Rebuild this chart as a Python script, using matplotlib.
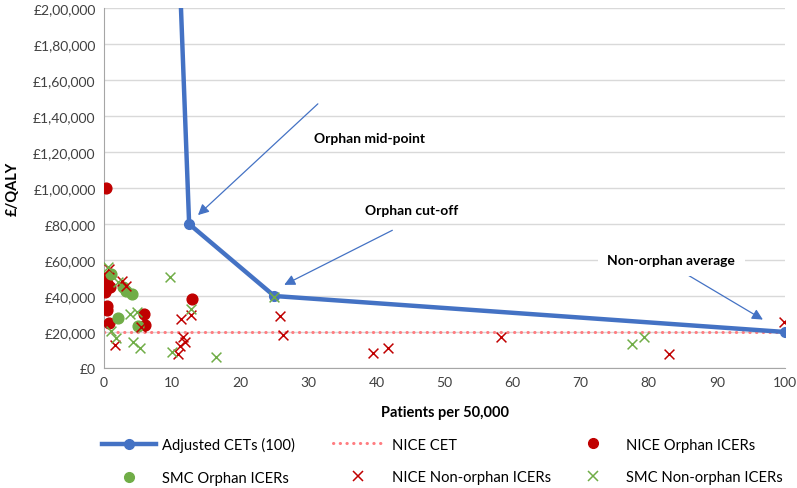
import matplotlib
matplotlib.use("Agg")
import matplotlib.pyplot as plt
from matplotlib.ticker import FuncFormatter, MultipleLocator
from matplotlib.lines import Line2D

plt.rcParams['font.family'] = ['Lato', 'DejaVu Sans']

# Adjusted cost-effectiveness thresholds (line runs off the top of the chart)
cet_x = [10, 12.5, 25, 100]
cet_y = [330000, 80000, 40000, 20000]

nice_cet_x = [0, 100]
nice_cet_y = [20000, 20000]

nice_orphan_x = [0.3, 0.2, 0.5, 0.9, 0.1, 0.3, 0.5, 0.5, 0.8, 5.8, 6.0, 12.9]
nice_orphan_y = [100000, 50000, 47000, 45000, 42000, 44000, 34500, 32000, 25000, 30000, 24000, 38500]

smc_orphan_x = [1.0, 2.8, 3.3, 4.1, 2.0, 5.0]
smc_orphan_y = [52000, 45000, 43000, 41000, 27500, 23500]

nice_non_x = [0.8, 2.6, 3.2, 1.6, 5.5, 11.3, 12.7, 11.6, 11.9, 11.2, 10.9, 25.8, 26.3,
              39.5, 41.7, 58.3, 83.0, 99.8]
nice_non_y = [55000, 48500, 45700, 12500, 22600, 27000, 29500, 17000, 14300, 12400, 8000, 29000,
              18500, 8500, 11000, 17000, 7500, 25500]

smc_non_x = [0.6, 2.1, 9.7, 3.8, 4.8, 1.0, 1.7, 4.2, 5.3, 10.0, 16.5, 12.8, 24.9, 77.6, 79.3]
smc_non_y = [56000, 47500, 50500, 30000, 31000, 20500, 16500, 14300, 11000, 8700, 6300, 33000,
             39500, 13500, 17000]

BLUE = '#4472C4'
RED = '#C00000'
GREEN = '#70AD47'
PINK = '#FF7C80'


def indian_pounds(v, pos):
    # £ with lakh-style grouping, e.g. £2,00,000
    v = int(round(v))
    s = str(v)
    if len(s) > 3:
        head, tail = s[:-3], s[-3:]
        parts = []
        while len(head) > 2:
            parts.insert(0, head[-2:])
            head = head[:-2]
        if head:
            parts.insert(0, head)
        s = ','.join(parts) + ',' + tail
    return '£' + s


fig = plt.figure(figsize=(7.97, 4.89), dpi=100)
ax = fig.add_axes([0.1305, 0.2454, 0.8545, 0.7362])

ax.plot(nice_cet_x, nice_cet_y, color=PINK, lw=2.2, ls=(0, (0.1, 2.1)),
        dash_capstyle='round', zorder=2)
ax.scatter(nice_orphan_x, nice_orphan_y, s=60, color=RED, zorder=3)
ax.scatter(smc_orphan_x, smc_orphan_y, s=60, color=GREEN, zorder=3)
ax.scatter(nice_non_x, nice_non_y, s=50, marker='x', color=RED, linewidths=1.1, zorder=3)
ax.plot(cet_x, cet_y, color=BLUE, lw=3.2, marker='o', ms=7, zorder=4)
ax.scatter(smc_non_x, smc_non_y, s=50, marker='x', color=GREEN, linewidths=1.1, zorder=5)

ax.set_xlim(0, 100)
ax.set_ylim(0, 200000)
ax.xaxis.set_major_locator(MultipleLocator(10))
ax.yaxis.set_major_locator(MultipleLocator(20000))
ax.yaxis.set_major_formatter(FuncFormatter(indian_pounds))
ax.grid(axis='y', color='#D9D9D9', lw=1)
ax.set_axisbelow(True)
for s in ['top', 'right']:
    ax.spines[s].set_visible(False)
for s in ['left', 'bottom']:
    ax.spines[s].set_color('#A6A6A6')
ax.tick_params(length=0, labelsize=10, colors='#404040', pad=6)
ax.set_xlabel('Patients per 50,000', fontsize=10.5, fontweight='bold', labelpad=12)
ax.set_ylabel('£/QALY', fontsize=10.5, fontweight='bold', labelpad=10)

arrow = dict(arrowstyle='-|>', color=BLUE, lw=0.9, mutation_scale=16)
ax.annotate('', xy=(13.5, 83900), xytext=(31.7, 147800), arrowprops=arrow)
ax.annotate('', xy=(26.1, 45500), xytext=(42.7, 77200), arrowprops=arrow)
ax.annotate('', xy=(97.1, 26100), xytext=(85.0, 53300), arrowprops=arrow)
ax.text(39, 128000, 'Orphan mid-point', fontsize=10, fontweight='bold', ha='center', va='center')
ax.text(45.2, 87500, 'Orphan cut-off', fontsize=10, fontweight='bold', ha='center', va='center')
ax.text(83.3, 60000, 'Non-orphan average', fontsize=10, fontweight='bold', ha='center', va='center',
        bbox=dict(facecolor='white', edgecolor='none', pad=7), zorder=6)

h_cet = Line2D([], [], color=BLUE, lw=3.2, marker='o', ms=7)
h_nice = Line2D([], [], color=PINK, lw=2.2, ls=(0, (0.1, 2.1)), dash_capstyle='round')
h_no = Line2D([], [], color=RED, marker='o', ls='none', ms=7)
h_so = Line2D([], [], color=GREEN, marker='o', ls='none', ms=7)
h_nn = Line2D([], [], color=RED, marker='x', ls='none', ms=7, mew=1.1)
h_sn = Line2D([], [], color=GREEN, marker='x', ls='none', ms=7, mew=1.1)

# three legend columns placed by hand so they sit evenly like the original
W, H = 797, 489
legend_cols = [
    ([h_cet, h_so], ['Adjusted CETs (100)', 'SMC Orphan ICERs'], 102, 3.67, 0.41),
    ([h_nice, h_nn], ['NICE CET', 'NICE Non-orphan ICERs'], 333, 3.33, 0.68),
    ([h_no, h_sn], ['NICE Orphan ICERs', 'SMC Non-orphan ICERs'], 568.5, 3.33, 0.58),
]
for hs, ls, x0, hl, tp in legend_cols:
    fig.legend(hs, ls, loc='center left', bbox_to_anchor=(x0 / W, 1 - 462 / H),
               frameon=False, fontsize=10.6, handlelength=hl, handletextpad=tp,
               labelspacing=1.29, borderpad=0, borderaxespad=0)

fig.savefig('out.png', dpi=100)
